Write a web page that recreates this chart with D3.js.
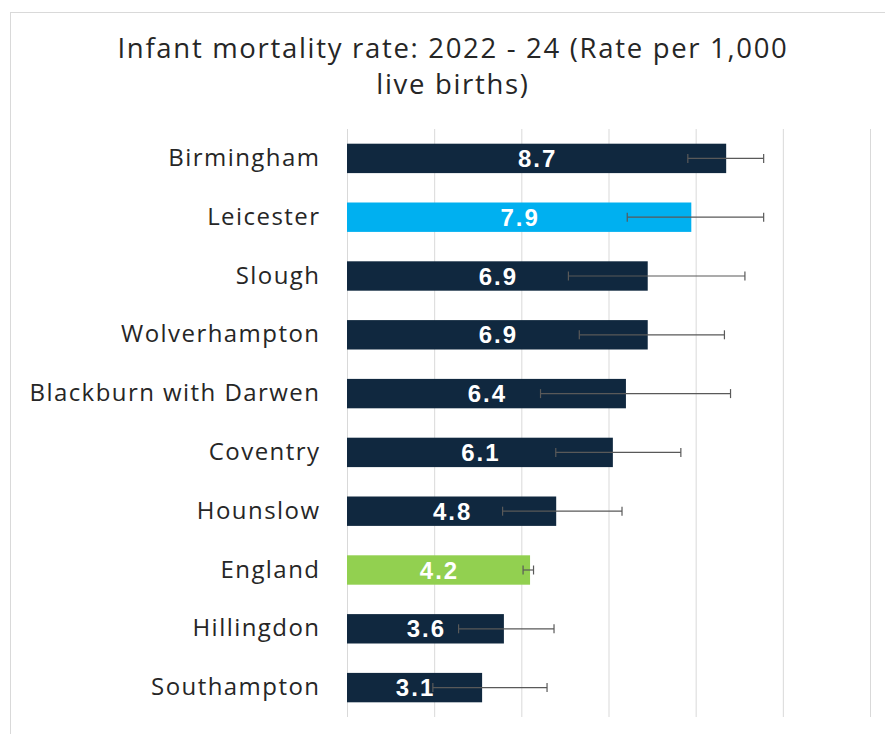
<!DOCTYPE html>
<html>
<head>
<meta charset="utf-8">
<script src="https://cdn.jsdelivr.net/npm/d3@7"></script>
<style>
  html, body { margin: 0; padding: 0; background: #ffffff; }
  svg { display: block; }
</style>
</head>
<body>
<svg id="chart" width="885" height="734"></svg>
<script>
// ---- data ----
const categories = ["Birmingham", "Leicester", "Slough", "Wolverhampton", "Blackburn with Darwen",
                    "Coventry", "Hounslow", "England", "Hillingdon", "Southampton"];
const rates      = [8.7, 7.9, 6.9, 6.9, 6.4, 6.1, 4.8, 4.2, 3.6, 3.1];
const lowerCI    = [7.82, 6.43, 5.08, 5.33, 4.44, 4.79, 3.57, 4.04, 2.56, 1.97];
const upperCI    = [9.56, 9.56, 9.13, 8.66, 8.80, 7.66, 6.31, 4.28, 4.75, 4.59];
const xTicks     = [0, 2, 4, 6, 8, 10, 12];
const titleLines = ["Infant mortality rate: 2022 - 24 (Rate per 1,000", "live births)"];

const colorFor = name => name === "Leicester" ? "#00b0f0" : (name === "England" ? "#92d050" : "#10283f");

const rows = categories.map((c, i) => ({ name: c, value: rates[i], lo: lowerCI[i], hi: upperCI[i] }));

const svg = d3.select("#chart");
const FONT = "'Liberation Sans', Arial, sans-serif";
const WIDE = "'Open Sans', 'Liberation Sans', sans-serif";

// outer border (chart area frame)
svg.append("rect")
  .attr("x", 10.5).attr("y", 12.5)
  .attr("width", 900).attr("height", 760)
  .attr("fill", "none").attr("stroke", "#d9d9d9").attr("stroke-width", 1);

// helper: fit letter-spacing so a text node reaches a target width
function fitSpacing(node, target) {
  const chars = node.textContent.length;
  node.setAttribute("letter-spacing", "0px");
  const w = node.getComputedTextLength();
  const ls = (target - w) / chars;
  node.setAttribute("letter-spacing", ls + "px");
  return ls;
}

// title
const titleG = svg.append("g");
let titleLS = 0;
titleLines.forEach((t, i) => {
  const tx = titleG.append("text")
    .attr("x", 453).attr("y", 58 + i * 36)
    .attr("text-anchor", "middle")
    .attr("font-family", WIDE)
    .attr("font-size", 27.5)
    .attr("fill", "#262626")
    .text(t);
  if (i === 0) titleLS = fitSpacing(tx.node(), 671);
  else tx.attr("letter-spacing", titleLS + "px");
});

// scales
const x = d3.scaleLinear().domain([0, 12]).range([347, 870]);
const y = d3.scaleBand().domain(categories).range([129, 717]).paddingInner(0.5).paddingOuter(0.25);

// gridlines
svg.append("g")
  .attr("transform", "translate(0,129)")
  .call(d3.axisBottom(x).tickValues(xTicks).tickSize(717 - 129).tickFormat(""))
  .call(g => g.select(".domain").remove())
  .call(g => g.selectAll(".tick line").attr("stroke", "#d9d9d9").attr("stroke-width", 1));

// category axis labels
const yAxisG = svg.append("g")
  .attr("transform", "translate(347,0)")
  .call(d3.axisLeft(y).tickSize(0).tickPadding(28))
  .call(g => g.select(".domain").remove())
  .call(g => g.selectAll(".tick text")
    .attr("font-family", WIDE)
    .attr("font-size", 24)
    .attr("fill", "#262626"));
// fit spacing using the longest label
let labelLS = 0;
yAxisG.selectAll(".tick text").each(function(d) {
  if (d === "Blackburn with Darwen") labelLS = fitSpacing(this, 291);
});
yAxisG.selectAll(".tick text").attr("letter-spacing", labelLS + "px").attr("dx", labelLS + "px");

// bars
svg.append("g").selectAll("rect").data(rows).join("rect")
  .attr("x", x(0))
  .attr("y", d => y(d.name))
  .attr("width", d => x(d.value) - x(0))
  .attr("height", y.bandwidth())
  .attr("fill", d => colorFor(d.name));

// value labels
svg.append("g").selectAll("text").data(rows).join("text")
  .attr("x", d => (x(0) + x(d.value)) / 2 + 1)
  .attr("y", d => y(d.name) + y.bandwidth() / 2)
  .attr("dy", "0.36em")
  .attr("text-anchor", "middle")
  .attr("font-family", FONT)
  .attr("font-weight", "bold")
  .attr("font-size", 24)
  .attr("letter-spacing", "2px")
  .attr("fill", "#ffffff")
  .text(d => d.value.toFixed(1));

// error bars
const eb = svg.append("g").attr("stroke", "#595959").attr("stroke-width", 1.2).attr("fill", "none");
rows.forEach(d => {
  const cy = y(d.name) + y.bandwidth() / 2;
  eb.append("line").attr("x1", x(d.lo)).attr("x2", x(d.hi)).attr("y1", cy).attr("y2", cy);
  eb.append("line").attr("x1", x(d.lo)).attr("x2", x(d.lo)).attr("y1", cy - 4.5).attr("y2", cy + 4.5);
  eb.append("line").attr("x1", x(d.hi)).attr("x2", x(d.hi)).attr("y1", cy - 4.5).attr("y2", cy + 4.5);
});
</script>
</body>
</html>
